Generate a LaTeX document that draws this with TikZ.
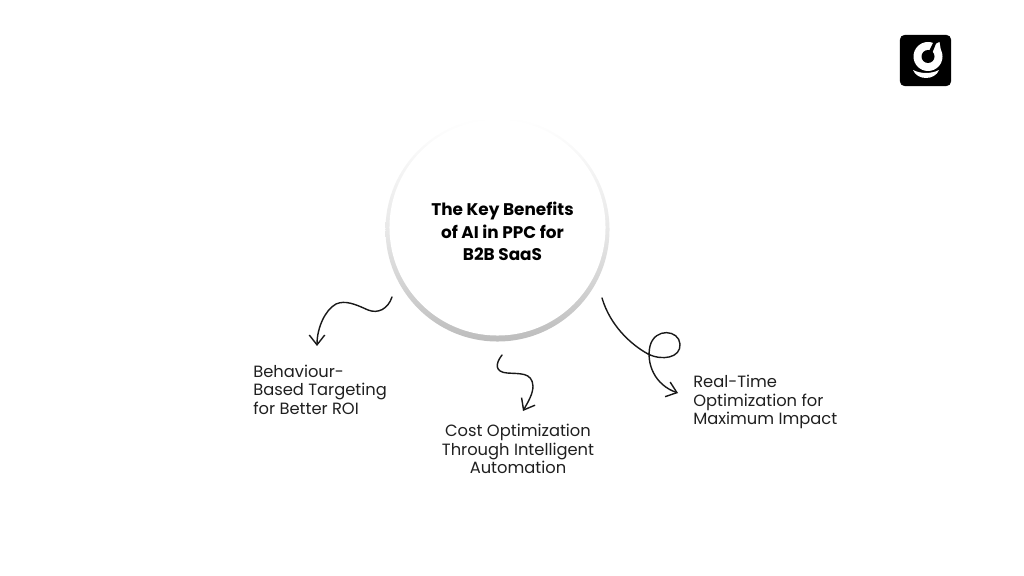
\documentclass[tikz,border=0pt]{standalone}
\usepackage{fontspec}
\setmainfont{Poppins}
\usetikzlibrary{arrows.meta}
\tikzset{
  benefit/.style={inner sep=0pt, font=\fontsize{11.6}{13.2}\selectfont, text=black!88},
  squiggle/.style={line width=1pt, black!90, line cap=round, -{Straight Barb[length=7pt,width=11pt,line width=1pt]}},
}
\begin{document}
\begin{tikzpicture}[x=0.025cm, y=-0.025cm]
  \useasboundingbox (0,0) rectangle (1024,576);

  % hub
  \node (ring) at (497.5,229.5) [circle, minimum size=5.6cm, inner sep=0pt, top color=white, bottom color=black!26, middle color=black!9] {};
  \node (hub) at (497.5,227.5) [circle, minimum size=5.4cm, inner sep=0pt, fill=white] {};
  \node (title) at (502.5,231.5) [align=center, inner sep=0pt, font=\fontsize{12}{16}\selectfont\bfseries] {The Key Benefits\\of AI in PPC for\\B2B SaaS};

  % labels
  \node (behaviour) at (253,364.5) [benefit, anchor=north west, align=left] {Behaviour-\\Based Targeting\\for Better ROI};
  \node (cost) at (518,449) [benefit, align=center] {Cost Optimization\\Through Intelligent\\Automation};
  \node (realtime) at (693,402) [benefit, anchor=west, align=left] {Real-Time\\Optimization for\\Maximum Impact};

  % arrows
  \coordinate (s1) at (392,297);
  \coordinate (e1) at (317,346);
  \coordinate (s2) at (502,355);
  \coordinate (e2) at (523,411);
  \coordinate (s3) at (602,298);
  \coordinate (e3) at (678,393);
  \draw[squiggle] (s1) .. controls (388,309) and (378,314) .. (368,310)
    .. controls (355,304) and (345,300) .. (336,304)
    .. controls (325,310) and (317,328) .. (e1);
  \draw[squiggle] (s2) .. controls (495,364) and (495,372) .. (507,373)
    .. controls (520,374) and (532,372) .. (533,386)
    .. controls (533,394) and (528,402) .. (e2);
  \draw[squiggle] (s3) .. controls (610,325) and (630,344) .. (648,354)
    .. controls (662,361) and (681,358) .. (680,344)
    .. controls (679,330) and (655,327) .. (650,346)
    .. controls (646,364) and (655,385) .. (e3);

  % logo
  \node (logo) at (925.5,60.5) [draw=black, fill=black, rounded corners=3.5pt, minimum size=1.27cm, inner sep=0pt] {};
  \fill[white] (928,56.5) circle (14.5);
  \fill[white] (939.5,42) -- (931,46) -- (942,57) -- cycle;
  \fill[black] (928,56.5) circle (6.5);
  \fill[black] (928,53) -- (934,41) -- (937,41) -- (931,56) -- cycle;
  \fill[white] (913,70) .. controls (921,74) and (931,74) .. (939,70)
    .. controls (937,75) and (932,78) .. (926,78)
    .. controls (920,78) and (915,75) .. (913,70) -- cycle;
\end{tikzpicture}
\end{document}
